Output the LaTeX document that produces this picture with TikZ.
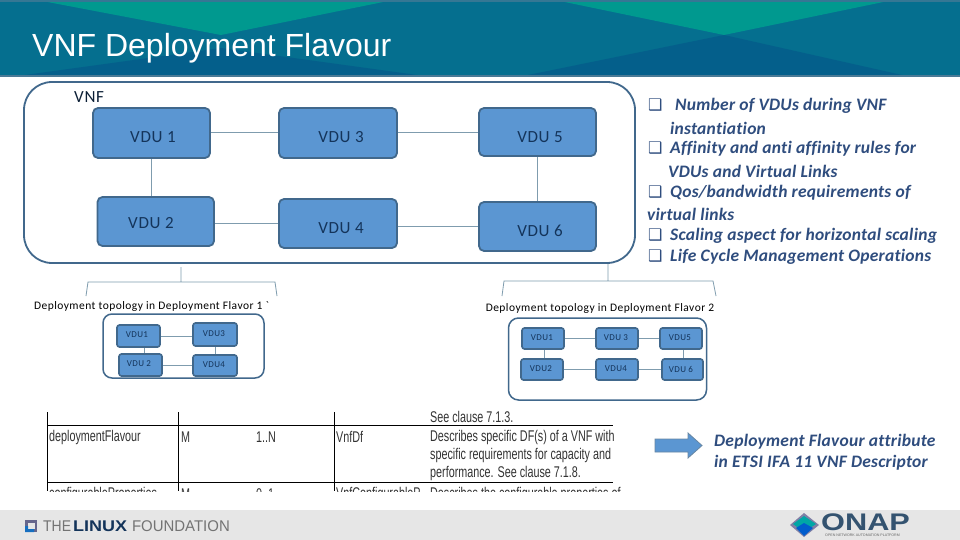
\documentclass[tikz,border=0pt]{standalone}
\usepackage{fontspec}
\usepackage{graphicx}
\setmainfont{Carlito}
\newfontfamily\lblfont[LetterSpace=4]{Carlito}
\newfontfamily\headfont{Liberation Sans}
\newfontfamily\boxfont{DejaVu Sans}
\definecolor{bandbase}{HTML}{056F8F}
\definecolor{bandteal}{HTML}{00998F}
\definecolor{banddark}{HTML}{045F8B}
\definecolor{bandline}{HTML}{4A7A96}
\definecolor{boxfill}{HTML}{5B96D2}
\definecolor{boxline}{HTML}{41688C}
\definecolor{linkcol}{HTML}{7F9CAE}
\definecolor{labcol}{HTML}{14345A}
\definecolor{notecol}{HTML}{2F4D7E}
\definecolor{foot}{HTML}{E6E6E6}
\tikzset{
  vdu/.style={draw=boxline,line width=1.8pt,fill=boxfill,rounded corners=5pt,inner sep=0pt},
  vdusmall/.style={draw=boxline,line width=1.6pt,fill=boxfill,rounded corners=2.5pt,inner sep=0pt},
  vdulabel/.style={text=labcol,inner sep=0pt,font=\lblfont\fontsize{17}{17}\selectfont},
  smalllabel/.style={text=labcol,inner sep=0pt,font=\lblfont\fontsize{9}{9}\selectfont},
  link/.style={draw=linkcol,line width=1pt},
  container/.style={draw=boxline,line width=1.8pt,fill=white,inner sep=0pt},
  bracket/.style={draw=linkcol,line width=0.8pt},
  toptext/.style={text=black,inner sep=0pt,font=\lblfont\fontsize{11.5}{12}\selectfont},
  note/.style={text=notecol,inner sep=0pt,anchor=west,font=\fontsize{17.5}{18}\bfseries\itshape\selectfont\addfontfeatures{LetterSpace=1.4,Ligatures=NoCommon}},
  bul/.style={text=notecol,inner sep=0pt,anchor=west,font=\boxfont\fontsize{16}{16}\selectfont},
  tabletext/.style={text=black!80,inner sep=0pt,anchor=west,font=\headfont\fontsize{15.5}{16}\selectfont},
  tablerule/.style={draw=black,line width=1pt},
}
\newcommand{\sq}[1]{\scalebox{0.695}[1]{#1}}
\begin{document}
\begin{tikzpicture}[x=1pt,y=-1pt]
\useasboundingbox (0,0) rectangle (960,540);
\fill[white] (0,0) rectangle (960,540);
% header band
\fill[bandbase] (0,0) rectangle (960,75);
\fill[bandteal] (37,0) -- (393,0) -- (221,35) -- cycle;
\fill[bandteal] (555,0) -- (893,0) -- (724,35) -- cycle;
\fill[banddark] (25,75) -- (221,48) -- (417,75) -- cycle;
\fill[banddark] (528,75) -- (724,35) -- (902,75) -- cycle;
\fill[bandline!70!bandbase] (0,0) rectangle (960,2);
\fill[bandline] (0,75) rectangle (960,77.5);
\node[text=white,inner sep=0pt,anchor=west,font=\headfont\fontsize{32}{32}\selectfont] (title) at (32,48.5) {VNF Deployment Flavour};
% footer
\fill[foot] (0,510) rectangle (960,540);
% main container
\node[container,rounded corners=28pt,minimum width=611pt,minimum height=181pt] (vnf) at (329.5,172.5) {};
\node[inner sep=0pt,anchor=west,text=labcol!60!black,font=\lblfont\fontsize{17}{17}\selectfont] (vnflabel) at (74,97) {VNF};
% main VDUs
\node[vdu,minimum width=117pt,minimum height=50pt] (v1) at (151.5,133) {};
\node[vdu,minimum width=116.5pt,minimum height=49pt] (v2) at (155.75,221.5) {};
\node[vdu,minimum width=118pt,minimum height=50pt] (v3) at (338,133) {};
\node[vdu,minimum width=118pt,minimum height=49pt] (v4) at (338,223.5) {};
\node[vdu,minimum width=117pt,minimum height=48pt] (v5) at (537.5,132) {};
\node[vdu,minimum width=117pt,minimum height=49pt] (v6) at (537.5,226.5) {};
\node[vdulabel] (v1t) at (153,137) {VDU 1};
\node[vdulabel] (v2t) at (151,223) {VDU 2};
\node[vdulabel] (v3t) at (341,137) {VDU 3};
\node[vdulabel] (v4t) at (341,228) {VDU 4};
\node[vdulabel] (v5t) at (540,137) {VDU 5};
\node[vdulabel] (v6t) at (540,231) {VDU 6};
\draw[link] (v1.east) -- (v3.west);
\draw[link] (v3.east) -- (v5.west |- v3.east);
\draw[link] (v2.east |- v4.west) -- (v4.west);
\draw[link] (v4.east |- v6.west) -- (v6.west);
\draw[link] (v1.south) -- (v1.south |- v2.north);
\draw[link] (v5.south) -- (v6.north);
% brackets
\coordinate (b1top) at (181,267);
\coordinate (b1l) at (86,296);
\coordinate (b1r) at (277,296);
\draw[bracket] (b1top) -- (181,282) (b1l) -- (88,282) -- (275,282) -- (b1r);
\coordinate (b2top) at (608,264);
\coordinate (b2l) at (502,296);
\coordinate (b2r) at (716,296);
\draw[bracket] (b2top) -- (608,281) (b2l) -- (504,281) -- (713,281) -- (b2r);
\node[toptext] (t1) at (151.5,306) {Deployment topology in Deployment Flavor 1 `};
\node[toptext] (t2) at (600,308) {Deployment topology in Deployment Flavor 2};
% flavour 1
\node[container,line width=1.5pt,rounded corners=9pt,minimum width=161pt,minimum height=64pt] (f1) at (183.5,346) {};
\node[vdusmall,minimum width=43pt,minimum height=22pt] (a1) at (138.5,336) {};
\node[vdusmall,minimum width=43pt,minimum height=22pt] (a2) at (140.5,365) {};
\node[vdusmall,minimum width=44pt,minimum height=23pt] (a3) at (215,334.5) {};
\node[vdusmall,minimum width=44pt,minimum height=21pt] (a4) at (215,365.5) {};
\node[smalllabel] (a1t) at (137,335) {VDU1};
\node[smalllabel] (a2t) at (139,364) {VDU 2};
\node[smalllabel] (a3t) at (214,334) {VDU3};
\node[smalllabel] (a4t) at (214,365) {VDU4};
\draw[link] (a1.east) -- (a3.west |- a1.east);
\draw[link] (a2.east) -- (a4.west |- a2.east);
\draw[link] ([xshift=5.5pt]a1.south) -- ([xshift=5.5pt]a1.south |- a2.north);
\draw[link] (a3.south) -- (a4.north);
% flavour 2
\node[container,line width=1.5pt,rounded corners=10pt,minimum width=198pt,minimum height=82pt] (f2) at (607.5,359) {};
\node[vdusmall,minimum width=42pt,minimum height=21pt] (c1) at (543,338.5) {};
\node[vdusmall,minimum width=42pt,minimum height=21pt] (c2) at (542,369.5) {};
\node[vdusmall,minimum width=42pt,minimum height=21pt] (c3) at (617,338.5) {};
\node[vdusmall,minimum width=42pt,minimum height=21pt] (c4) at (617,369.5) {};
\node[vdusmall,minimum width=42pt,minimum height=21pt] (c5) at (681,338.5) {};
\node[vdusmall,minimum width=41pt,minimum height=21pt] (c6) at (682.5,369.5) {};
\node[smalllabel] (c1t) at (542,338) {VDU1};
\node[smalllabel] (c2t) at (541,369) {VDU2};
\node[smalllabel] (c3t) at (616,338) {VDU 3};
\node[smalllabel] (c4t) at (616,369) {VDU4};
\node[smalllabel] (c5t) at (680,338) {VDU5};
\node[smalllabel] (c6t) at (681,369) {VDU 6};
\draw[link] (c1.east) -- (c3.west);
\draw[link] (c3.east) -- (c5.west);
\draw[link] (c2.east) -- (c4.west);
\draw[link] (c4.east) -- (c6.west);
\draw[link] ([xshift=1pt]c1.south) -- ([xshift=1pt]c1.south |- c2.north);
\draw[link] ([xshift=2pt]c5.south) -- ([xshift=2pt]c5.south |- c6.north);
% notes
\foreach \yy/\nm in {105/n1,148/n2,192/n3,235/n4,256/n5}
  \node[bul] (b\nm) at (648,\yy) {❑};
\node[note] (n1) at (675,106) {Number of VDUs during VNF};
\node[note] (n1b) at (670,128) {instantiation};
\node[note] (n2) at (670,149) {Affinity and anti affinity rules for};
\node[note] (n2b) at (668,171) {VDUs and Virtual Links};
\node[note] (n3) at (670,193) {Qos/bandwidth requirements of};
\node[note] (n3b) at (647,214) {virtual links};
\node[note] (n4) at (670,236) {Scaling aspect for horizontal scaling};
\node[note] (n5) at (670,257) {Life Cycle Management Operations};
% table
\begin{scope}
\clip (40,408) rectangle (620,491);
\draw[tablerule] (47,412) -- (47,491) (178,412) -- (178,491) (334,412) -- (334,491);
\draw[tablerule] (47,425) -- (613,425) (47,482) -- (613,482);
\node[tabletext] (r0) at (430,417) {\sq{See clause 7.1.3.}};
\node[tabletext] (r1a) at (49,437) {\sq{deploymentFlavour}};
\node[tabletext] (r1b) at (181,437) {\sq{M}};
\node[tabletext] (r1c) at (256,437) {\sq{1..N}};
\node[tabletext] (r1d) at (336,437) {\sq{VnfDf}};
\node[tabletext] (r1e) at (430,437) {\sq{Describes specific DF(s) of a VNF with}};
\node[tabletext] (r1f) at (430,455) {\sq{specific requirements for capacity and}};
\node[tabletext] (r1g) at (430,473) {\sq{performance. See clause 7.1.8.}};
\node[tabletext] (r2a) at (49,494) {\sq{configurableProperties}};
\node[tabletext] (r2b) at (181,494) {\sq{M}};
\node[tabletext] (r2c) at (256,494) {\sq{0..1}};
\node[tabletext] (r2d) at (336,494) {\sq{VnfConfigurableP}};
\node[tabletext] (r2e) at (430,494) {\sq{Describes the configurable properties of}};
\end{scope}
% arrow
\draw[fill=boxfill,draw=boxline!80,line width=0.8pt] (655,439) -- (688,439) -- (688,433) -- (702,445.5) -- (688,458) -- (688,452) -- (655,452) -- cycle;
\node[note] (d1) at (714,442) {Deployment Flavour attribute};
\node[note] (d2) at (714,463) {in ETSI IFA 11 VNF Descriptor};
% Linux Foundation logo
\fill[black!75!blue!60] (25,520) rectangle (37,532);
\fill[foot] (28,523) rectangle (35,529);
\fill[cyan!50!blue] (25,526) -- (25,532) -- (34,532) -- (34,529) -- (28,529) -- (28,526) -- cycle;
\node[inner sep=0pt,anchor=west,font=\headfont\fontsize{15.5}{16}\selectfont] (lf) at (43,526) {\scalebox{0.9}[1]{\textcolor{black!55}{THE}}\hspace{2pt}\scalebox{1.16}[1]{\textcolor{labcol}{\bfseries LINUX}}\hspace{5pt}\scalebox{0.965}[1]{\textcolor{black!55}{FOUNDATION}}};
% ONAP logo
\fill[black!70!blue!50] (790,525) -- (804,513) -- (819,525) -- (804,537) -- cycle;
\fill[teal!70!cyan] (793,524) -- (804,516) -- (816,524) -- (804,532) -- cycle;
\fill[blue!55!cyan!80!black] (796,528) -- (804,523) -- (813,528) -- (804,536) -- cycle;
\node[inner sep=0pt,anchor=west,text=boxline!80!black,font=\headfont\bfseries\fontsize{24}{24}\selectfont] (onap) at (821,522) {\scalebox{1.28}[1]{ONAP}};
\node[inner sep=0pt,anchor=west,text=black!60,font=\headfont\fontsize{3.6}{4}\selectfont] (onapsub) at (825,535.5) {OPEN NETWORK AUTOMATION PLATFORM};
\end{tikzpicture}
\end{document}
